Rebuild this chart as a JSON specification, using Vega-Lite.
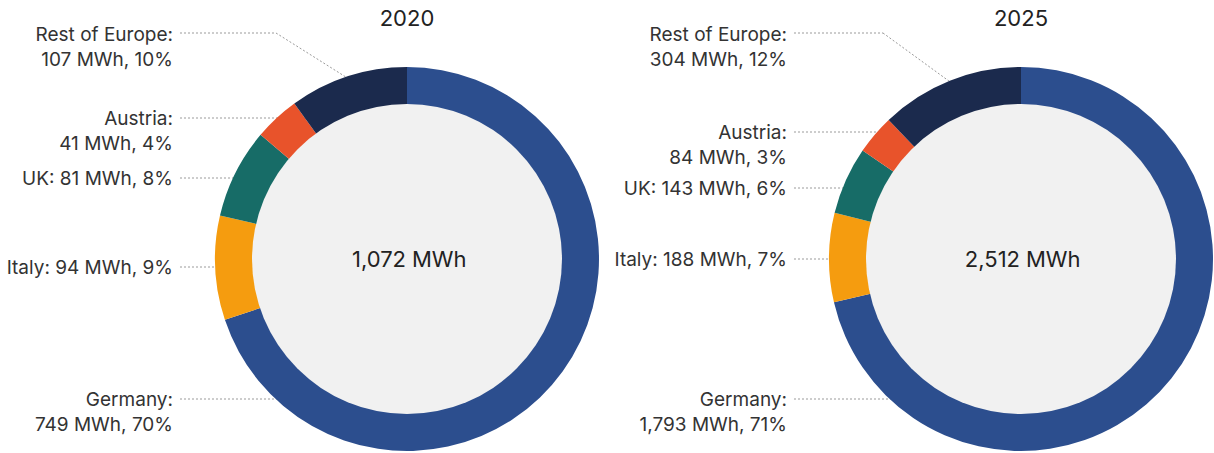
{
  "$schema": "https://vega.github.io/schema/vega-lite/v6.json",
  "width": 1214,
  "height": 453,
  "autosize": {"type": "none"},
  "padding": 0,
  "background": "#ffffff",
  "config": {
    "view": {"stroke": null},
    "text": {"font": "Inter", "fontSize": 19, "color": "#333333"},
    "rule": {"color": "#9a9a9a", "strokeDash": [2, 2], "strokeWidth": 1}
  },
  "data": {
    "values": [
      {"year": 2020, "country": "Germany", "mwh": 749, "share": 70, "label": "Germany:\n749 MWh, 70%"},
      {"year": 2020, "country": "Italy", "mwh": 94, "share": 9, "label": "Italy: 94 MWh, 9%"},
      {"year": 2020, "country": "UK", "mwh": 81, "share": 8, "label": "UK: 81 MWh, 8%"},
      {"year": 2020, "country": "Austria", "mwh": 41, "share": 4, "label": "Austria:\n41 MWh, 4%"},
      {"year": 2020, "country": "Rest of Europe", "mwh": 107, "share": 10, "label": "Rest of Europe:\n107 MWh, 10%"},
      {"year": 2025, "country": "Germany", "mwh": 1793, "share": 71, "label": "Germany:\n1,793 MWh, 71%"},
      {"year": 2025, "country": "Italy", "mwh": 188, "share": 7, "label": "Italy: 188 MWh, 7%"},
      {"year": 2025, "country": "UK", "mwh": 143, "share": 6, "label": "UK: 143 MWh, 6%"},
      {"year": 2025, "country": "Austria", "mwh": 84, "share": 3, "label": "Austria:\n84 MWh, 3%"},
      {"year": 2025, "country": "Rest of Europe", "mwh": 304, "share": 12, "label": "Rest of Europe:\n304 MWh, 12%"}
    ]
  },
  "encoding": {
    "x": {"field": "year", "type": "quantitative", "axis": null, "scale": {"domain": [2016.6857, 2026.5717], "zero": false, "nice": false}}
  },
  "layer": [
    {
      "transform": [{"filter": "datum.year == 2020 && datum.country == 'Rest of Europe'"}],
      "layer": [
        {"mark": {"type": "text", "align": "right", "baseline": "middle", "dx": -234, "lineBreak": "\n", "lineHeight": 25}, "encoding": {"y": {"datum": -224, "scale": {"domain": [-259, 194], "reverse": true, "zero": false, "nice": false}, "axis": null}, "text": {"field": "label"}}},
        {"mark": {"type": "rule", "xOffset": -227, "x2Offset": -131}, "encoding": {"x2": {"field": "year"}, "y": {"datum": -226}}},
        {"mark": {"type": "rule", "xOffset": -131, "x2Offset": -58}, "encoding": {"x2": {"field": "year"}, "y": {"datum": -226}, "y2": {"datum": -180}}}
      ]
    },
    {
      "transform": [{"filter": "datum.year == 2020 && datum.country == 'Austria'"}],
      "layer": [
        {"mark": {"type": "text", "align": "right", "baseline": "middle", "dx": -234, "lineBreak": "\n", "lineHeight": 25}, "encoding": {"y": {"datum": -140}, "text": {"field": "label"}}},
        {"mark": {"type": "rule", "xOffset": -227, "x2Offset": 0}, "encoding": {"x2": {"field": "year"}, "y": {"datum": -141}}}
      ]
    },
    {
      "transform": [{"filter": "datum.year == 2020 && datum.country == 'UK'"}],
      "layer": [
        {"mark": {"type": "text", "align": "right", "baseline": "middle", "dx": -234}, "encoding": {"y": {"datum": -80}, "text": {"field": "label"}}},
        {"mark": {"type": "rule", "xOffset": -227, "x2Offset": 0}, "encoding": {"x2": {"field": "year"}, "y": {"datum": -81}}}
      ]
    },
    {
      "transform": [{"filter": "datum.year == 2020 && datum.country == 'Italy'"}],
      "layer": [
        {"mark": {"type": "text", "align": "right", "baseline": "middle", "dx": -234}, "encoding": {"y": {"datum": 9}, "text": {"field": "label"}}},
        {"mark": {"type": "rule", "xOffset": -227, "x2Offset": 0}, "encoding": {"x2": {"field": "year"}, "y": {"datum": 8}}}
      ]
    },
    {
      "transform": [{"filter": "datum.year == 2020 && datum.country == 'Germany'"}],
      "layer": [
        {"mark": {"type": "text", "align": "right", "baseline": "middle", "dx": -234, "lineBreak": "\n", "lineHeight": 25}, "encoding": {"y": {"datum": 141}, "text": {"field": "label"}}},
        {"mark": {"type": "rule", "xOffset": -227, "x2Offset": 0}, "encoding": {"x2": {"field": "year"}, "y": {"datum": 140}}}
      ]
    },
    {
      "transform": [{"filter": "datum.year == 2025 && datum.country == 'Rest of Europe'"}],
      "layer": [
        {"mark": {"type": "text", "align": "right", "baseline": "middle", "dx": -234, "lineBreak": "\n", "lineHeight": 25}, "encoding": {"y": {"datum": -224}, "text": {"field": "label"}}},
        {"mark": {"type": "rule", "xOffset": -227, "x2Offset": -138}, "encoding": {"x2": {"field": "year"}, "y": {"datum": -226}}},
        {"mark": {"type": "rule", "xOffset": -138, "x2Offset": -68}, "encoding": {"x2": {"field": "year"}, "y": {"datum": -226}, "y2": {"datum": -175}}}
      ]
    },
    {
      "transform": [{"filter": "datum.year == 2025 && datum.country == 'Austria'"}],
      "layer": [
        {"mark": {"type": "text", "align": "right", "baseline": "middle", "dx": -234, "lineBreak": "\n", "lineHeight": 25}, "encoding": {"y": {"datum": -126}, "text": {"field": "label"}}},
        {"mark": {"type": "rule", "xOffset": -227, "x2Offset": 0}, "encoding": {"x2": {"field": "year"}, "y": {"datum": -127}}}
      ]
    },
    {
      "transform": [{"filter": "datum.year == 2025 && datum.country == 'UK'"}],
      "layer": [
        {"mark": {"type": "text", "align": "right", "baseline": "middle", "dx": -234}, "encoding": {"y": {"datum": -70}, "text": {"field": "label"}}},
        {"mark": {"type": "rule", "xOffset": -227, "x2Offset": 0}, "encoding": {"x2": {"field": "year"}, "y": {"datum": -71}}}
      ]
    },
    {
      "transform": [{"filter": "datum.year == 2025 && datum.country == 'Italy'"}],
      "layer": [
        {"mark": {"type": "text", "align": "right", "baseline": "middle", "dx": -234}, "encoding": {"y": {"datum": 1}, "text": {"field": "label"}}},
        {"mark": {"type": "rule", "xOffset": -227, "x2Offset": 0}, "encoding": {"x2": {"field": "year"}, "y": {"datum": 0}}}
      ]
    },
    {
      "transform": [{"filter": "datum.year == 2025 && datum.country == 'Germany'"}],
      "layer": [
        {"mark": {"type": "text", "align": "right", "baseline": "middle", "dx": -234, "lineBreak": "\n", "lineHeight": 25}, "encoding": {"y": {"datum": 141}, "text": {"field": "label"}}},
        {"mark": {"type": "rule", "xOffset": -227, "x2Offset": 0}, "encoding": {"x2": {"field": "year"}, "y": {"datum": 140}}}
      ]
    },
    {
      "transform": [
        {"filter": "datum.year == 2020"},
        {"window": [{"op": "row_number", "as": "idx"}]},
        {"stack": "mwh", "groupby": ["year"], "sort": [{"field": "idx", "order": "ascending"}], "offset": "normalize", "as": ["t0", "t1"]}
      ],
      "mark": {"type": "arc", "outerRadius": 192, "innerRadius": 150},
      "encoding": {
        "x": {"datum": 2020, "type": "quantitative"},
        "y": {"datum": 0, "type": "quantitative"},
        "theta": {"field": "t0", "type": "quantitative", "scale": {"domain": [0, 1]}},
        "theta2": {"field": "t1"},
        "color": {"field": "country", "type": "nominal", "legend": null, "scale": {"domain": ["Germany", "Italy", "UK", "Austria", "Rest of Europe"], "range": ["#2c4e8e", "#f59c0f", "#176c67", "#e8532b", "#1b2a4d"]}}
      }
    },
    {
      "transform": [
        {"filter": "datum.year == 2025"},
        {"window": [{"op": "row_number", "as": "idx"}]},
        {"stack": "mwh", "groupby": ["year"], "sort": [{"field": "idx", "order": "ascending"}], "offset": "normalize", "as": ["t0", "t1"]}
      ],
      "mark": {"type": "arc", "outerRadius": 192, "innerRadius": 150},
      "encoding": {
        "x": {"datum": 2025, "type": "quantitative"},
        "y": {"datum": 0, "type": "quantitative"},
        "theta": {"field": "t0", "type": "quantitative"},
        "theta2": {"field": "t1"},
        "color": {"field": "country", "type": "nominal", "legend": null}
      }
    },
    {
      "transform": [{"aggregate": [{"op": "sum", "field": "mwh", "as": "total"}], "groupby": ["year"]}],
      "layer": [
        {"mark": {"type": "point", "shape": "circle", "filled": true, "size": 96100, "color": "#f1f1f1", "opacity": 1, "strokeWidth": 0}, "encoding": {"y": {"datum": 0}}},
        {"mark": {"type": "text", "align": "right", "baseline": "middle", "fontSize": 22, "color": "#222222", "dx": -1}, "encoding": {"y": {"datum": 1}, "text": {"field": "total", "type": "quantitative", "format": ",d"}}},
        {"mark": {"type": "text", "align": "left", "baseline": "middle", "fontSize": 22, "color": "#222222", "dx": 5, "text": "MWh"}, "encoding": {"y": {"datum": 1}}},
        {"mark": {"type": "text", "align": "center", "baseline": "middle", "fontSize": 22, "color": "#222222"}, "encoding": {"y": {"datum": -240}, "text": {"field": "year", "type": "quantitative", "format": "d"}}}
      ]
    }
  ]
}
